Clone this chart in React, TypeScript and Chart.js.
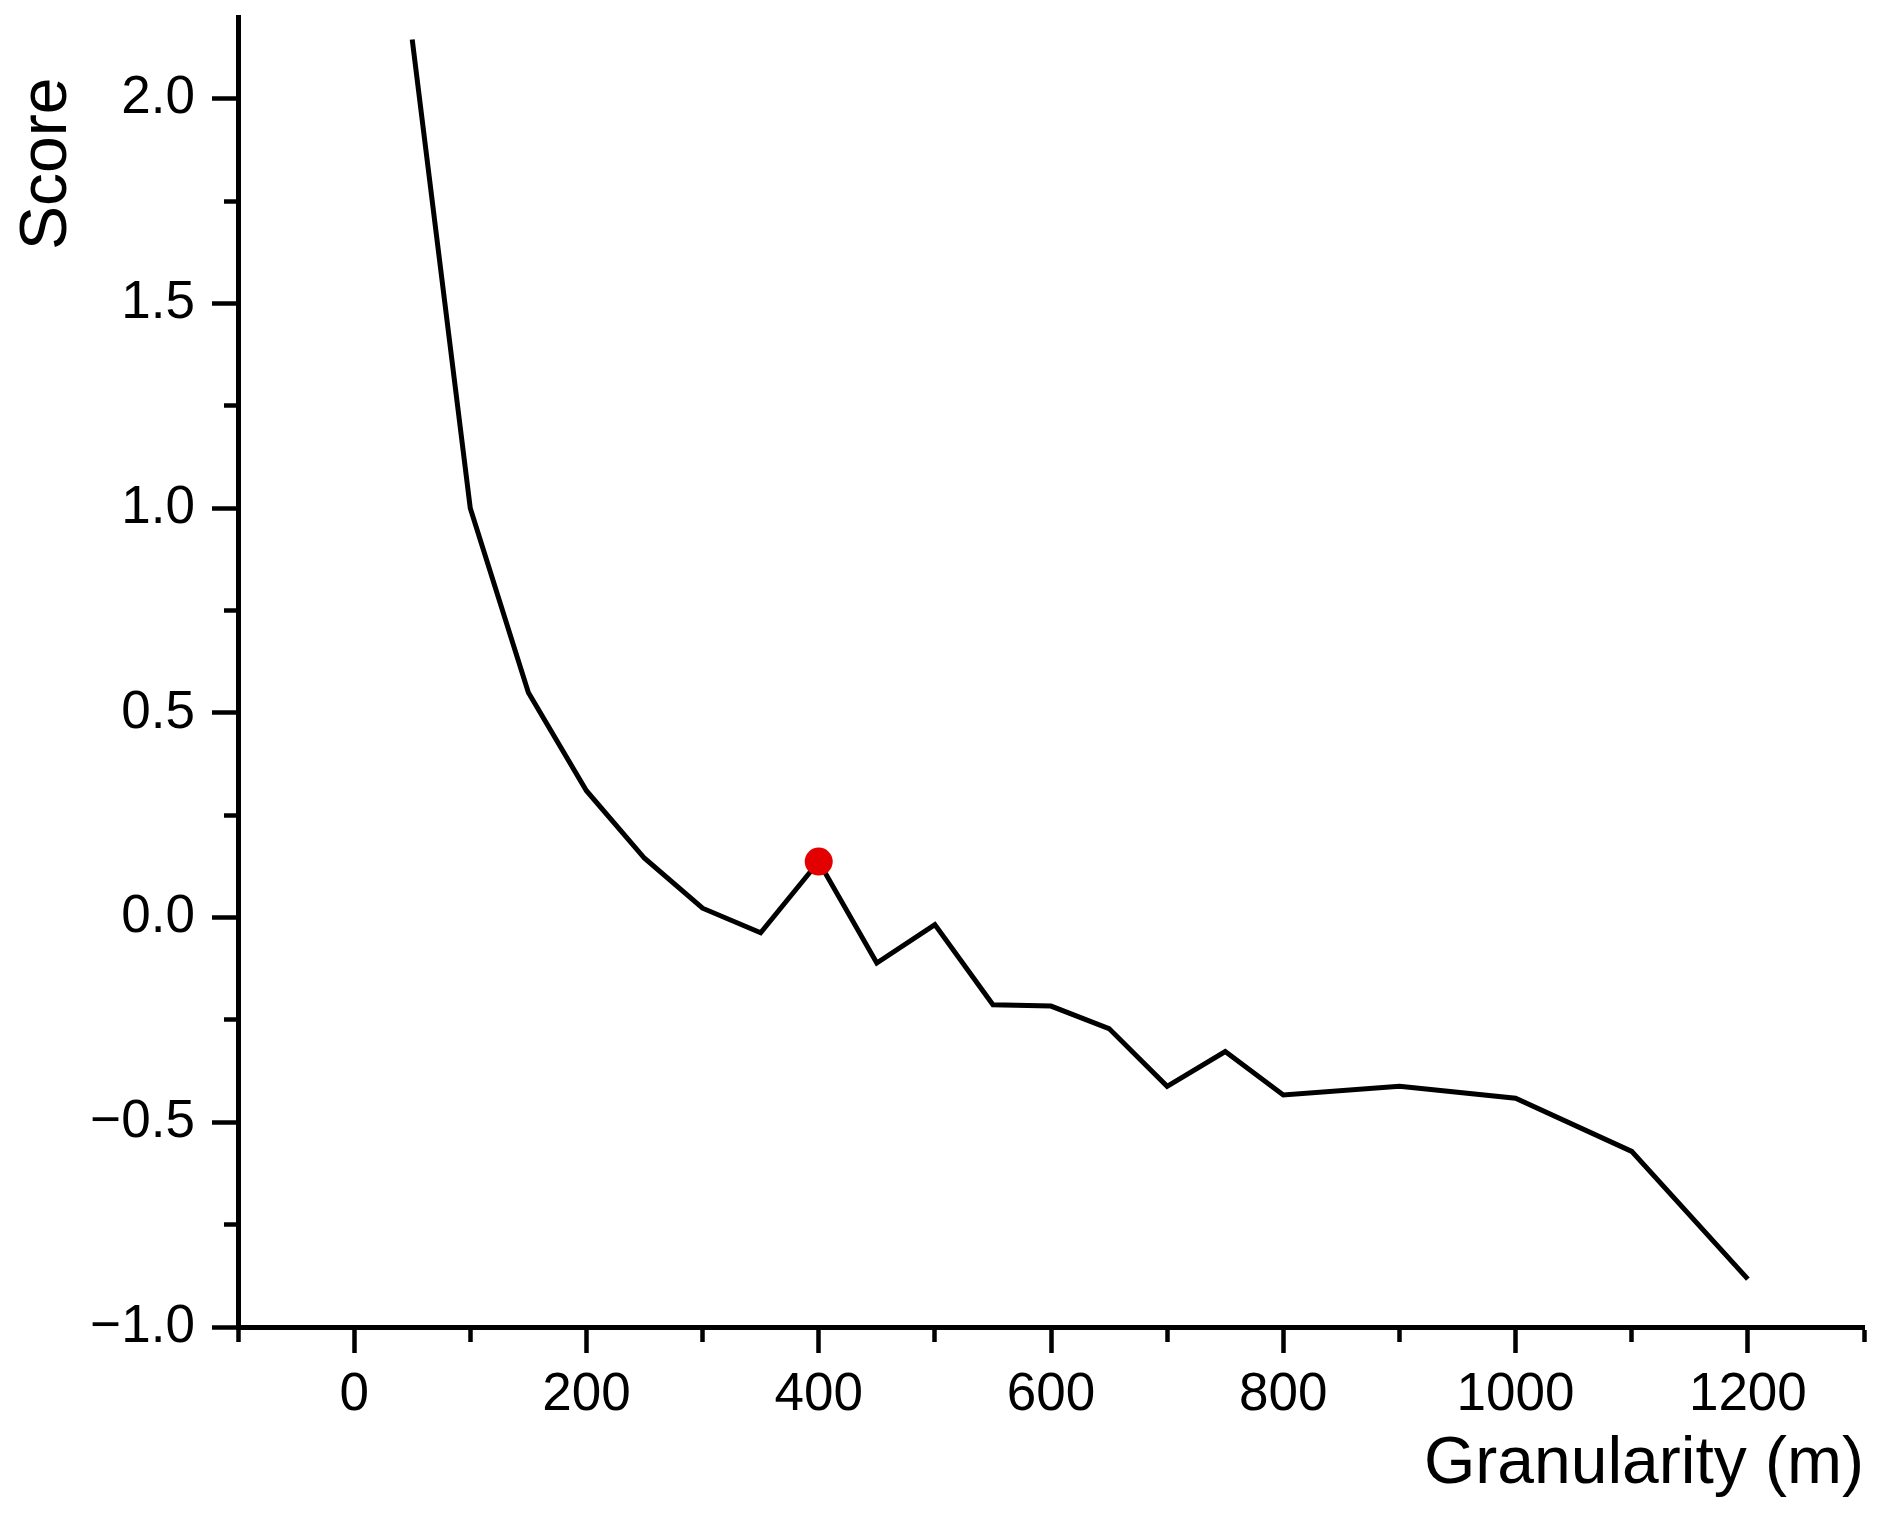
import { useEffect, useRef } from "react"
import { Chart, registerables } from "chart.js"

Chart.register(...registerables)

// granularity (m) and the score
const granularity = [50, 100, 150, 200, 250, 300, 350, 400, 450, 500, 550, 600, 650, 700, 750, 800, 900, 1000, 1100, 1200]
const score = [2.145, 1.0, 0.55, 0.31, 0.145, 0.023, -0.037, 0.137, -0.111, -0.017, -0.213, -0.216, -0.271, -0.412, -0.327, -0.433, -0.412, -0.441, -0.571, -0.883]

// the highlighted (best) granularity
const bestGranularity = [400]

// labelled ticks, the others are minor ticks
const xMajorTicks = [0, 200, 400, 600, 800, 1000, 1200]
const yMajorTicks = [-1.0, -0.5, 0.0, 0.5, 1.0, 1.5, 2.0]

const FONT = "'Liberation Sans', Arial, Helvetica, sans-serif"

const isMajor = (list: number[], v: number) => list.some((m) => Math.abs(m - v) < 1e-6)

const fmtY = (v: number) => (v < 0 ? "\u2212" + Math.abs(v).toFixed(1) : v.toFixed(1))

// y axis title sits near the top of the axis, Origin style
const yTitlePlugin = {
  id: "yTitle",
  afterDraw(chart: Chart) {
    const { ctx } = chart
    ctx.save()
    ctx.translate(66, 250)
    ctx.rotate(-Math.PI / 2)
    ctx.font = `66px ${FONT}`
    ctx.fillStyle = "#000"
    ctx.textAlign = "left"
    ctx.textBaseline = "alphabetic"
    ctx.fillText("Score", 0, 0)
    ctx.restore()
  },
}

export default function App() {
  const canvasRef = useRef<HTMLCanvasElement>(null)

  useEffect(() => {
    document.body.style.margin = "0"
    const canvas = canvasRef.current
    if (!canvas) return

    const points = granularity.map((g, i) => ({ x: g, y: score[i] }))
    const best = bestGranularity.map((g) => ({ x: g, y: score[granularity.indexOf(g)] }))

    const chart = new Chart(canvas, {
      type: "line",
      data: {
        datasets: [
          {
            type: "scatter",
            data: best,
            order: 0,
            pointRadius: 14,
            pointHoverRadius: 14,
            pointBackgroundColor: "#e30000",
            pointBorderWidth: 0,
            showLine: false,
          },
          {
            type: "line",
            data: points,
            order: 1,
            borderColor: "#000",
            borderWidth: 5,
            borderJoinStyle: "miter",
            pointRadius: 0,
            tension: 0,
            fill: false,
          },
        ],
      },
      options: {
        responsive: false,
        animation: false,
        events: [],
        layout: { padding: { top: 17, right: 22, bottom: 0, left: 0 } },
        plugins: {
          legend: { display: false },
          tooltip: { enabled: false },
        },
        scales: {
          x: {
            type: "linear",
            position: "bottom",
            min: -100,
            max: 1300,
            afterFit: (scale: any) => {
              scale.height = 201
              scale.paddingLeft = 0
              scale.paddingRight = 0
            },
            border: { display: true, color: "#000", width: 5 },
            grid: {
              drawOnChartArea: false,
              drawTicks: true,
              tickLength: 26,
              tickWidth: 4.5,
              tickColor: "#000",
              // minor ticks: keep only the part next to the axis
              tickBorderDash: (ctx: any) =>
                ctx.tick && isMajor(xMajorTicks, ctx.tick.value) ? [] : [12, 100],
            },
            ticks: {
              stepSize: 100,
              includeBounds: false,
              autoSkip: false,
              maxRotation: 0,
              padding: 11,
              color: "#000",
              font: { family: FONT, size: 53 },
              callback: (v: any) => (isMajor(xMajorTicks, Number(v)) ? String(v) : ""),
            },
            title: {
              display: true,
              text: "Granularity (m)",
              align: "end",
              color: "#000",
              font: { family: FONT, size: 66 },
              padding: { top: 0, bottom: 24 },
            },
          },
          y: {
            type: "linear",
            min: -1,
            max: 2.2,
            afterFit: (scale: any) => {
              scale.width = 238
              scale.paddingTop = 0
              scale.paddingBottom = 0
            },
            border: { display: true, color: "#000", width: 5 },
            grid: {
              drawOnChartArea: false,
              drawTicks: true,
              tickLength: 26,
              tickWidth: 4.5,
              tickColor: "#000",
              // left ticks are stroked from the outer end, so shift the dash to the axis side
              tickBorderDash: (ctx: any) =>
                ctx.tick && isMajor(yMajorTicks, ctx.tick.value) ? [] : [12, 100],
              tickBorderDashOffset: 100,
            },
            ticks: {
              stepSize: 0.25,
              includeBounds: false,
              autoSkip: false,
              padding: 17,
              color: "#000",
              font: { family: FONT, size: 53 },
              callback: (v: any) => (isMajor(yMajorTicks, Number(v)) ? fmtY(Number(v)) : ""),
            },
          },
        },
      },
      plugins: [yTitlePlugin],
    })

    return () => {
      chart.destroy()
    }
  }, [])

  return (
    <div style={{ width: 1886, height: 1528 }}>
      <canvas ref={canvasRef} width={1886} height={1528} style={{ display: "block", width: 1886, height: 1528 }} />
    </div>
  )
}
